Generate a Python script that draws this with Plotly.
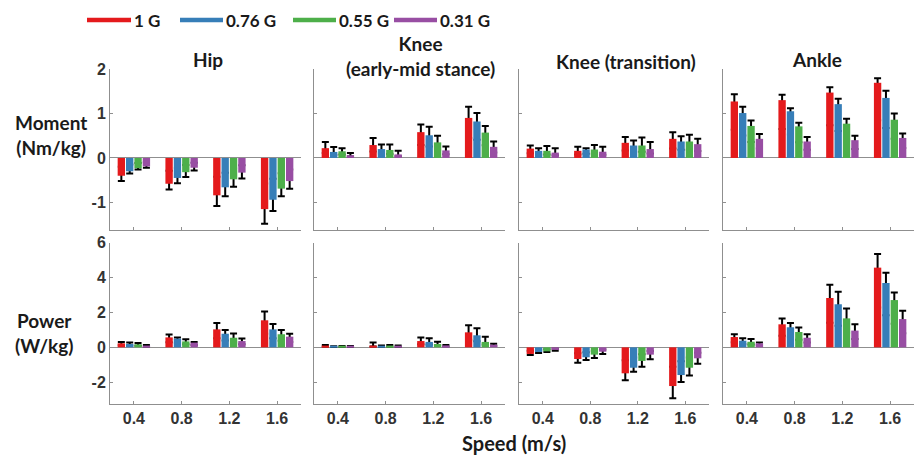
import plotly.graph_objects as go
from plotly.subplots import make_subplots

W, H = 916, 456

speeds = [0.4, 0.8, 1.2, 1.6]
speed_labels = ["0.4", "0.8", "1.2", "1.6"]
gravity = ["1 G", "0.76 G", "0.55 G", "0.31 G"]
colors = ["#e41a1c", "#377eb8", "#4daf4a", "#984ea3"]

panel_titles = ["Hip", "Knee<br>(early-mid stance)", "Knee (transition)", "Ankle"]
row_labels = ["Moment<br>(Nm/kg)", "Power<br>(W/kg)"]

# ---- Moment (Nm/kg): mean per gravity level, and SD ----
hip_m_mean = [[-0.40, -0.58, -0.84, -1.15], [-0.30, -0.45, -0.66, -0.94],
              [-0.23, -0.32, -0.48, -0.69], [-0.19, -0.22, -0.33, -0.52]]
hip_m_sd = [[0.12, 0.13, 0.24, 0.33], [0.05, 0.12, 0.20, 0.25],
            [0.03, 0.11, 0.17, 0.17], [0.03, 0.06, 0.13, 0.17]]
kem_m_mean = [[0.22, 0.29, 0.58, 0.90], [0.135, 0.20, 0.51, 0.82],
              [0.15, 0.18, 0.35, 0.57], [0.06, 0.08, 0.17, 0.25]]
kem_m_sd = [[0.14, 0.16, 0.17, 0.25], [0.11, 0.10, 0.19, 0.19],
            [0.07, 0.12, 0.15, 0.15], [0.05, 0.08, 0.09, 0.12]]
ktr_m_mean = [[0.21, 0.16, 0.34, 0.43], [0.16, 0.19, 0.28, 0.37],
              [0.16, 0.19, 0.28, 0.37], [0.12, 0.14, 0.20, 0.31]]
ktr_m_sd = [[0.07, 0.09, 0.13, 0.15], [0.06, 0.03, 0.11, 0.12],
            [0.11, 0.10, 0.18, 0.15], [0.10, 0.11, 0.16, 0.12]]
ank_m_mean = [[1.27, 1.30, 1.47, 1.69], [1.01, 1.05, 1.21, 1.35],
              [0.72, 0.71, 0.77, 0.86], [0.43, 0.37, 0.40, 0.45]]
ank_m_sd = [[0.16, 0.12, 0.12, 0.10], [0.14, 0.07, 0.12, 0.16],
            [0.12, 0.08, 0.11, 0.14], [0.11, 0.10, 0.10, 0.10]]

# ---- Power (W/kg) ----
hip_p_mean = [[0.23, 0.57, 1.03, 1.55], [0.19, 0.50, 0.78, 1.03],
              [0.17, 0.34, 0.55, 0.75], [0.10, 0.27, 0.36, 0.61]]
hip_p_sd = [[0.08, 0.16, 0.36, 0.51], [0.08, 0.07, 0.21, 0.31],
            [0.08, 0.12, 0.25, 0.24], [0.03, 0.04, 0.14, 0.17]]
kem_p_mean = [[0.10, 0.10, 0.36, 0.86], [0.04, 0.08, 0.31, 0.69],
              [0.06, 0.10, 0.19, 0.31], [0.06, 0.08, 0.11, 0.15]]
kem_p_sd = [[0.03, 0.17, 0.21, 0.40], [0.02, 0.03, 0.21, 0.40],
            [0.02, 0.03, 0.13, 0.30], [0.02, 0.03, 0.02, 0.06]]
ktr_p_mean = [[-0.38, -0.67, -1.49, -2.22], [-0.27, -0.57, -1.17, -1.59],
              [-0.23, -0.42, -0.78, -1.17], [-0.15, -0.25, -0.42, -0.63]]
ktr_p_sd = [[0.06, 0.21, 0.40, 0.70], [0.05, 0.16, 0.23, 0.40],
            [0.04, 0.19, 0.33, 0.44], [0.04, 0.13, 0.27, 0.31]]
ank_p_mean = [[0.59, 1.32, 2.83, 4.57], [0.38, 1.15, 2.47, 3.69],
              [0.32, 0.88, 1.66, 2.71], [0.23, 0.55, 0.96, 1.62]]
ank_p_sd = [[0.16, 0.34, 0.76, 0.78], [0.14, 0.24, 0.72, 0.59],
            [0.16, 0.25, 0.56, 0.44], [0.04, 0.20, 0.36, 0.48]]

panels = [
    [(hip_m_mean, hip_m_sd), (kem_m_mean, kem_m_sd), (ktr_m_mean, ktr_m_sd), (ank_m_mean, ank_m_sd)],
    [(hip_p_mean, hip_p_sd), (kem_p_mean, kem_p_sd), (ktr_p_mean, ktr_p_sd), (ank_p_mean, ank_p_sd)],
]

y_ranges = [[-1.62, 2.0], [-3.25, 6.0]]
y_ticks = [[-1, 0, 1, 2], [-2, 0, 2, 4, 6]]
y_ticklabels = [["-1", "0", "1", "2"], ["-2", "0", "2", "4", "6"]]

# layout geometry (pixels)
x_px = [(110, 301), (314, 505), (519, 709), (723, 914)]
y_px = [(69, 230), (242.7, 404)]

AXIS = "#8f8f8f"
TXT = "#1a1a1a"
LAB_FONT = "Lato"
TICK_FONT = dict(family="Liberation Sans", size=16, color="#333333", weight="bold")

fig = make_subplots(rows=2, cols=4)

for r in range(2):
    for c in range(4):
        mean, sd = panels[r][c]
        for k in range(4):
            plus, minus = [], []
            for m, s in zip(mean[k], sd[k]):
                if m >= 0:
                    plus.append(s); minus.append(abs(m) * 0.5)
                else:
                    plus.append(abs(m) * 0.5); minus.append(s)
            # error bars (drawn under the coloured bars, so only the outer half shows)
            fig.add_trace(go.Bar(
                x=speeds, y=mean[k], offsetgroup=str(k),
                marker=dict(color="rgba(0,0,0,0)", line=dict(width=0)),
                error_y=dict(type="data", symmetric=False, array=plus, arrayminus=minus,
                             color="black", thickness=2, width=3.5),
                showlegend=False, hoverinfo="skip"), row=r + 1, col=c + 1)
        for k in range(4):
            fig.add_trace(go.Bar(
                x=speeds, y=mean[k], offsetgroup=str(k), name=gravity[k],
                marker=dict(color=colors[k], line=dict(width=0)),
                showlegend=False), row=r + 1, col=c + 1)

for r in range(2):
    for c in range(4):
        idx = r * 4 + c + 1
        xa = "xaxis" if idx == 1 else f"xaxis{idx}"
        ya = "yaxis" if idx == 1 else f"yaxis{idx}"
        x0, x1 = x_px[c]
        y0, y1 = y_px[r]
        fig.layout[xa].update(
            domain=[x0 / W, x1 / W], range=[0.2, 1.8], automargin=False,
            tickvals=speeds, ticktext=speed_labels, showticklabels=(r == 1),
            ticks="inside", ticklen=3, tickcolor=AXIS, tickwidth=1,
            showline=True, linecolor=AXIS, linewidth=1, showgrid=False, zeroline=False,
            tickfont=TICK_FONT, fixedrange=True)
        fig.layout[ya].update(
            domain=[1 - y1 / H, 1 - y0 / H], range=y_ranges[r], automargin=False,
            tickvals=y_ticks[r], ticktext=y_ticklabels[r], showticklabels=(c == 0),
            ticks="inside", ticklen=3, tickcolor=AXIS, tickwidth=1,
            showline=True, linecolor=AXIS, linewidth=1, showgrid=False,
            zeroline=True, zerolinecolor=AXIS, zerolinewidth=1,
            tickfont=TICK_FONT, fixedrange=True)

ann = []
shapes = []
title_pos = [(208, 59), (420, 56.5), (626, 61), (817, 60)]
for t, (px, py) in zip(panel_titles, title_pos):
    ann.append(dict(text=f"<b>{t}</b>", x=px / W, y=1 - py / H, xref="paper", yref="paper",
                    xanchor="center", yanchor="middle", showarrow=False,
                    font=dict(family=LAB_FONT, size=19, color=TXT)))
for t, (px, py) in zip(row_labels, [(51, 135), (44, 333)]):
    ann.append(dict(text=f"<b>{t}</b>", x=px / W, y=1 - py / H, xref="paper", yref="paper",
                    xanchor="center", yanchor="middle", showarrow=False,
                    font=dict(family=LAB_FONT, size=19, color=TXT)))
ann.append(dict(text="<b>Speed (m/s)</b>", x=514 / W, y=1 - 443 / H, xref="paper", yref="paper",
                xanchor="center", yanchor="middle", showarrow=False,
                font=dict(family=LAB_FONT, size=20, color=TXT)))

# legend: coloured line keys with labels
legend_keys = [(87, 131), (180, 223), (293, 336), (394, 437)]
for k, (lx0, lx1) in enumerate(legend_keys):
    shapes.append(dict(type="line", xref="paper", yref="paper",
                       x0=lx0 / W, x1=lx1 / W, y0=1 - 20 / H, y1=1 - 20 / H,
                       line=dict(color=colors[k], width=4.5)))
    ann.append(dict(text=f"<b>{gravity[k]}</b>", x=(lx1 + 1) / W, y=1 - 21 / H,
                    xref="paper", yref="paper", xanchor="left", yanchor="middle",
                    showarrow=False, font=dict(family=LAB_FONT, size=17, color=TXT)))

fig.update_layout(
    width=W, height=H, margin=dict(l=0, r=0, t=0, b=0, pad=0, autoexpand=False),
    paper_bgcolor="white", plot_bgcolor="white",
    barmode="group", bargap=0.3, bargroupgap=0.12,
    annotations=ann, shapes=shapes, showlegend=False,
)

fig.write_html("out.html",
               post_script="document.body.style.margin='0px';document.body.style.padding='0px';")
